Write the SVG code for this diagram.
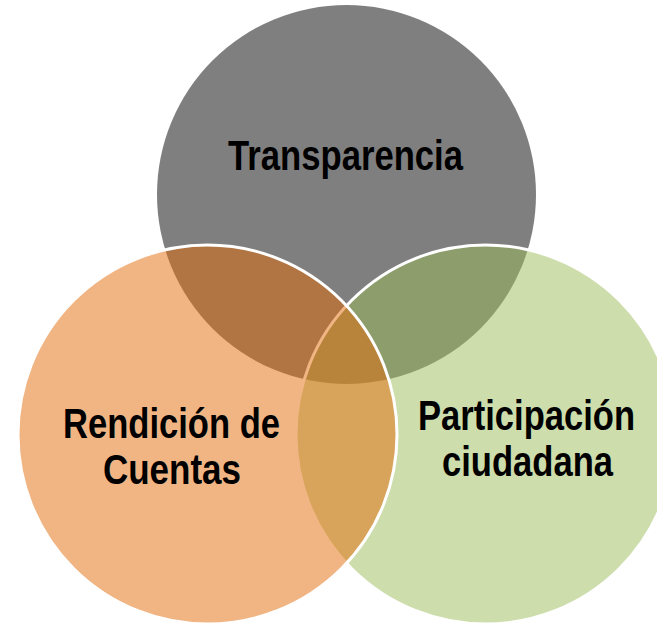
<svg xmlns="http://www.w3.org/2000/svg" width="657" height="623" viewBox="0 0 657 623">
<style>
.lbl{font-family:"Liberation Sans Narrow","Liberation Sans",Arial,sans-serif;font-weight:bold;font-size:43px;fill:#000;text-anchor:middle}
.c{stroke:#fff;stroke-width:3}
</style>
<rect width="657" height="623" fill="#fff"/>
<g id="transparencia">
<circle cx="346.5" cy="194.5" r="189.5" fill="#000" fill-opacity="0.5"/>
</g>
<g id="participacion">
<circle class="c" cx="485.5" cy="434.5" r="189.5" fill="#9BBB59" fill-opacity="0.5"/>
</g>
<g id="rendicion">
<circle class="c" cx="207.5" cy="434.5" r="189.5" fill="#E36C09" fill-opacity="0.5"/>
</g>
<g id="labels">
<text class="lbl" x="345.5" y="170" textLength="235" lengthAdjust="spacingAndGlyphs">Transparencia</text>
<text class="lbl" x="171.5" y="438" textLength="217" lengthAdjust="spacingAndGlyphs">Rendición de</text>
<text class="lbl" x="172" y="484" textLength="138" lengthAdjust="spacingAndGlyphs">Cuentas</text>
<text class="lbl" x="526.5" y="430" textLength="217" lengthAdjust="spacingAndGlyphs">Participación</text>
<text class="lbl" x="527.5" y="476" textLength="171" lengthAdjust="spacingAndGlyphs">ciudadana</text>
</g>
</svg>
